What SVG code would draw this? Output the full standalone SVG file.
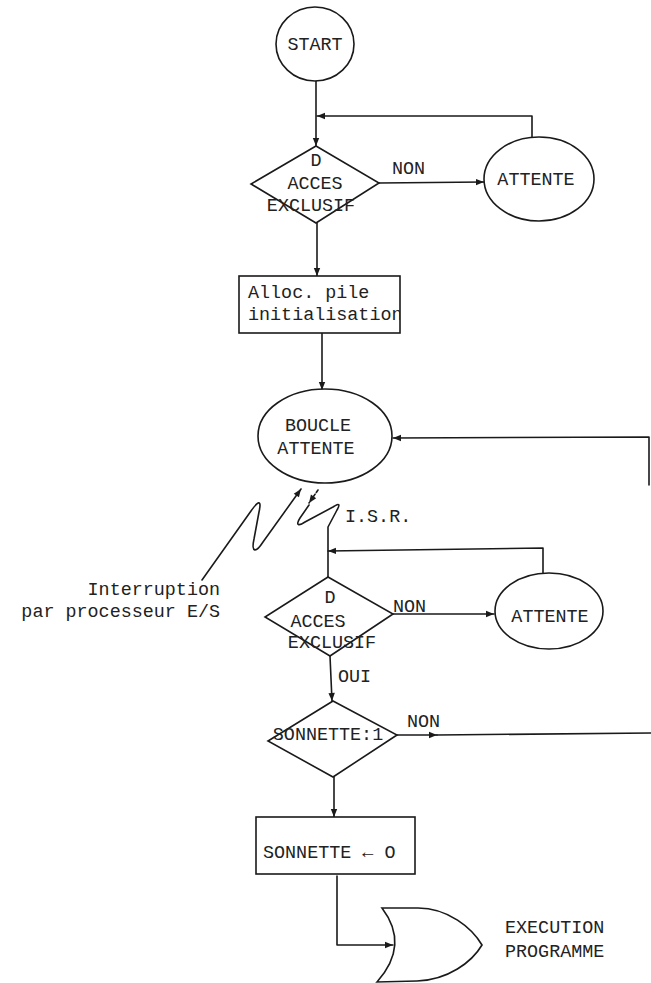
<svg xmlns="http://www.w3.org/2000/svg" width="651" height="983" viewBox="0 0 651 983">
<defs>
<style>
.s{fill:none;stroke:#1a1a1a;stroke-width:1.6;stroke-linejoin:round;stroke-linecap:round}
.n{fill:#fff;stroke:#1a1a1a;stroke-width:1.6}
.t{font-family:"Liberation Mono","DejaVu Sans Mono",monospace;font-size:18.4px;fill:#222}
.c{text-anchor:middle}
.r{text-anchor:end}
</style>
<marker id="arr" viewBox="0 0 10 10" refX="10" refY="5" markerWidth="9" markerHeight="8" markerUnits="userSpaceOnUse" orient="auto">
<path d="M0,1 L10,5 L0,9 Z" fill="#1a1a1a"/>
</marker>
<clipPath id="boxclip"><rect x="239" y="276" width="161" height="57"/></clipPath>
</defs>
<rect width="651" height="983" fill="#fff"/>

<g id="connectors">
<path class="s" d="M316,81 L316,146" marker-end="url(#arr)"/>
<path class="s" d="M532,137 L532,116 L317,116" marker-end="url(#arr)"/>
<path class="s" d="M379,183 L484,182" marker-end="url(#arr)"/>
<path class="s" d="M317,223 L317,276" marker-end="url(#arr)"/>
<path class="s" d="M322,333 L322,390" marker-end="url(#arr)"/>
<path class="s" d="M649,485 L649,437 L393,438" marker-end="url(#arr)"/>
<path class="s" d="M397,735 L437,735" marker-end="url(#arr)"/>
<path class="s" d="M437,735 L651,733"/>
<path class="s" d="M202,580 L251,511 C258,501 262,499 259,512 L254,539 C251,553 256,553 263,542 L301,489" marker-end="url(#arr)"/>
<path class="s" d="M318,490 L309,503" stroke-dasharray="3,2" marker-end="url(#arr)"/>
<path class="s" d="M309,505 L300,518 C295,526 299,526 305,522 L333,507 C340,502 340,505 337,510 L328,527 L328,577"/>
<path class="s" d="M543,573 L543,548 L328,551" marker-end="url(#arr)"/>
<path class="s" d="M393,614 L494,614" marker-end="url(#arr)"/>
<path class="s" d="M330,656 L332,701" marker-end="url(#arr)"/>
<path class="s" d="M334,777 L334,817" marker-end="url(#arr)"/>
<path class="s" d="M337,876 L337,945 L393,945" marker-end="url(#arr)"/>
</g>

<g id="start">
<ellipse class="n" cx="315" cy="44" rx="39" ry="37"/>
<text class="t c" x="315" y="50">START</text>
</g>

<g id="acces1">
<path class="n" d="M316,146 L379,183 L316,223 L251,184 Z"/>
<text class="t c" x="316" y="166">D</text>
<text class="t c" x="315" y="189">ACCES</text>
<text class="t c" x="311" y="211">EXCLUSIF</text>
</g>
<text class="t" x="392" y="174">NON</text>

<g id="attente1">
<ellipse class="n" cx="539" cy="179" rx="55" ry="42"/>
<text class="t c" x="536" y="185">ATTENTE</text>
</g>

<g id="alloc">
<rect class="n" x="239" y="276" width="161" height="57"/>
<g clip-path="url(#boxclip)">
<text class="t" x="248" y="298">Alloc. pile</text>
<text class="t" x="248" y="320">initialisation</text>
</g>
</g>

<g id="boucle">
<ellipse class="n" cx="325" cy="436" rx="67" ry="47"/>
<text class="t c" x="318" y="431">BOUCLE</text>
<text class="t c" x="316" y="454">ATTENTE</text>
</g>

<text class="t" x="345" y="522">I.S.R.</text>
<text class="t r" x="220" y="595">Interruption</text>
<text class="t r" x="220" y="617">par processeur E/S</text>

<g id="acces2">
<path class="n" d="M328,577 L393,614 L330,656 L265,617 Z"/>
<text class="t c" x="330" y="603">D</text>
<text class="t c" x="318" y="627">ACCES</text>
<text class="t c" x="332" y="648">EXCLUSIF</text>
</g>
<text class="t" x="393" y="612">NON</text>

<g id="attente2">
<ellipse class="n" cx="549" cy="611" rx="54" ry="38"/>
<text class="t c" x="550" y="622">ATTENTE</text>
</g>
<text class="t" x="338" y="682">OUI</text>

<g id="sonnette1">
<path class="n" d="M333,701 L397,735 L333,777 L268,741 Z"/>
<text class="t c" x="328" y="740">SONNETTE:1</text>
</g>
<text class="t" x="407" y="727">NON</text>

<g id="sonnette0">
<rect class="n" x="256" y="817" width="159" height="57"/>
<text class="t" x="263" y="858">SONNETTE ← O</text>
</g>

<g id="execution">
<path class="n" d="M382,908 L418,908 C448,908 472,928 482,945 C472,962 448,980 417,981 L377,982 Q410,945 382,908 Z"/>
<text class="t" x="505" y="933">EXECUTION</text>
<text class="t" x="505" y="957">PROGRAMME</text>
</g>
</svg>
